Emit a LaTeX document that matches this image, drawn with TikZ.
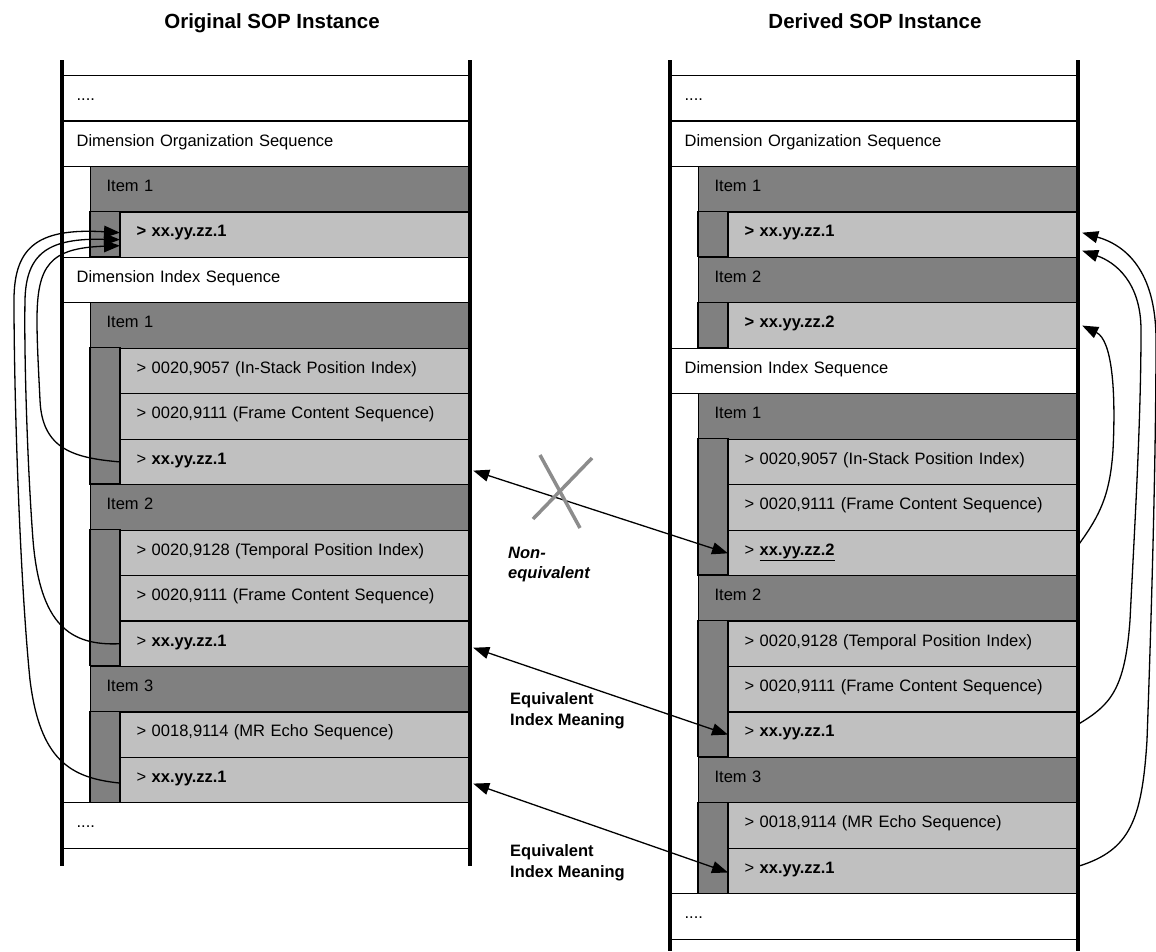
\documentclass[tikz,border=0pt]{standalone}
\usepackage{fontspec}
\setmainfont{Liberation Sans}
\usetikzlibrary{arrows.meta}
\definecolor{dgray}{RGB}{128,128,128}
\definecolor{lgray}{RGB}{192,192,192}
\definecolor{xgray}{RGB}{140,140,140}
\begin{document}
\begin{tikzpicture}[x=1pt, y=-1pt,
  every node/.style={font=\fontsize{16.5}{21}\selectfont},
  row/.style={draw, line width=1.2pt, minimum height=45.45pt, anchor=north west,
    inner ysep=0pt, text height=12pt, text depth=7.4pt, align=left},
  wrow/.style={row, fill=white, minimum width=408pt, text width=380pt, inner xsep=14pt},
  hrow/.style={row, fill=dgray, minimum width=380pt, text width=348pt, inner xsep=16pt},
  irow/.style={row, fill=lgray, minimum width=350pt, text width=318pt, inner xsep=16pt},
  side/.style={draw, line width=1.2pt, fill=dgray},
  colline/.style={line width=3.5pt},
  conn/.style={line width=1.3pt},
  tipend/.style={conn, -{Triangle[length=16pt,width=12pt]}},
  tipboth/.style={conn, {Triangle[length=16pt,width=12pt]}-{Triangle[length=16pt,width=12pt]}},
  xmark/.style={line width=3.5pt, draw=xgray},
  title/.style={font=\bfseries\fontsize{20.5}{24}\selectfont, anchor=base},
  lab/.style={font=\bfseries\fontsize{16.5}{21}\selectfont, anchor=base west, align=left, inner sep=0pt}
]
\useasboundingbox (0,0) rectangle (1156,951);

\node[title] (t1) at (272,28) {Original SOP Instance};
\node[title] (t2) at (875,28) {Derived SOP Instance};

% ---------- left column ----------
\node[wrow] (L0) at (62,75) {....};
\node[wrow] (L1) at (62,120.45) {Dimension Organization Sequence};
\node[hrow] (L2) at (90,165.9) {Item 1};
\draw[side] (90,211.35) rectangle (120,256.8);
\node[irow] (L3) at (120,211.35) {\textbf{> xx.yy.zz.1}};
\node[wrow] (L4) at (62,256.8) {Dimension Index Sequence};
\node[hrow] (L5) at (90,302.25) {Item 1};
\draw[side] (90,347.7) rectangle (120,484.05);
\node[irow] (L6) at (120,347.7) {> 0020,9057 (In-Stack Position Index)};
\node[irow] (L7) at (120,393.15) {> 0020,9111 (Frame Content Sequence)};
\node[irow] (L8) at (120,438.6) {> \textbf{xx.yy.zz.1}};
\node[hrow] (L9) at (90,484.05) {Item 2};
\draw[side] (90,529.5) rectangle (120,665.85);
\node[irow] (L10) at (120,529.5) {> 0020,9128 (Temporal Position Index)};
\node[irow] (L11) at (120,574.95) {> 0020,9111 (Frame Content Sequence)};
\node[irow] (L12) at (120,620.4) {> \textbf{xx.yy.zz.1}};
\node[hrow] (L13) at (90,665.85) {Item 3};
\draw[side] (90,711.3) rectangle (120,802.2);
\node[irow] (L14) at (120,711.3) {> 0018,9114 (MR Echo Sequence)};
\node[irow] (L15) at (120,756.75) {> \textbf{xx.yy.zz.1}};
\node[wrow] (L16) at (62,802.2) {....};

% ---------- right column ----------
\node[wrow] (R0) at (670,75) {....};
\node[wrow] (R1) at (670,120.45) {Dimension Organization Sequence};
\node[hrow] (R2) at (698,165.9) {Item 1};
\draw[side] (698,211.35) rectangle (728,256.8);
\node[irow] (R3) at (728,211.35) {\textbf{> xx.yy.zz.1}};
\node[hrow] (R4) at (698,256.8) {Item 2};
\draw[side] (698,302.25) rectangle (728,347.7);
\node[irow] (R5) at (728,302.25) {\textbf{> xx.yy.zz.2}};
\node[wrow] (R6) at (670,347.7) {Dimension Index Sequence};
\node[hrow] (R7) at (698,393.15) {Item 1};
\draw[side] (698,438.6) rectangle (728,574.95);
\node[irow] (R8) at (728,438.6) {> 0020,9057 (In-Stack Position Index)};
\node[irow] (R9) at (728,484.05) {> 0020,9111 (Frame Content Sequence)};
\node[irow] (R10) at (728,529.5) {> \underline{\textbf{xx.yy.zz.2}}};
\node[hrow] (R11) at (698,574.95) {Item 2};
\draw[side] (698,620.4) rectangle (728,756.75);
\node[irow] (R12) at (728,620.4) {> 0020,9128 (Temporal Position Index)};
\node[irow] (R13) at (728,665.85) {> 0020,9111 (Frame Content Sequence)};
\node[irow] (R14) at (728,711.3) {> \textbf{xx.yy.zz.1}};
\node[hrow] (R15) at (698,756.75) {Item 3};
\draw[side] (698,802.2) rectangle (728,893.1);
\node[irow] (R16) at (728,802.2) {> 0018,9114 (MR Echo Sequence)};
\node[irow] (R17) at (728,847.65) {> \textbf{xx.yy.zz.1}};
\node[wrow] (R18) at (670,893.1) {....};

% column rails
\draw[colline] (62,60) -- (62,866);
\draw[colline] (470,60) -- (470,866);
\draw[colline] (670,60) -- (670,951);
\draw[colline] (1078,60) -- (1078,951);

% ---------- left curves ----------
\draw[tipend] (L8.west) .. controls (75,458) and (42,450) .. (40,400)
  .. controls (38,360) and (37,340) .. (37,320)
  .. controls (37,265) and (50,248) .. ([yshift=-11pt]L3.west);
\draw[tipend] (L12.west) .. controls (70,646) and (40,625) .. (33,540)
  .. controls (27,460) and (24,350) .. (25,300)
  .. controls (26,252) and (50,238) .. ([yshift=-5pt]L3.west);
\draw[tipend] ([yshift=-3pt]L15.west) .. controls (70,778) and (40,760) .. (30,680)
  .. controls (20,580) and (14,400) .. (14,300)
  .. controls (14,245) and (40,228) .. ([yshift=2pt]L3.west);

% ---------- right curves ----------
\draw[tipend] ([yshift=9pt]R10.east) .. controls (1100,515) and (1110,495) .. (1113,450)
  .. controls (1116,390) and (1112,340) .. ([xshift=3pt]R5.east);
\draw[tipend] ([yshift=11pt]R14.east) .. controls (1110,705) and (1125,690) .. (1130,620)
  .. controls (1135,520) and (1141,420) .. (1141,330)
  .. controls (1141,282) and (1115,262) .. ([xshift=3pt,yshift=-16pt]R3.east);
\draw[tipend] ([yshift=5pt]R17.east) .. controls (1130,850) and (1142,820) .. (1147,740)
  .. controls (1152,600) and (1156,450) .. (1156,340)
  .. controls (1156,270) and (1125,245) .. ([xshift=3pt,yshift=2pt]R3.east);

% ---------- middle arrows ----------
\draw[tipboth] ([xshift=2pt,yshift=-8.7pt]L8.east) -- ([yshift=-0.5pt]R10.west);
\draw[tipboth] ([xshift=2pt,yshift=-4pt]L12.east) -- (R14.west);
\draw[tipboth] ([xshift=2pt,yshift=-3.5pt]L15.east) -- ([yshift=-1.5pt]R17.west);

% cross
\draw[xmark] (540,455) -- (580,528);
\draw[xmark] (592,458) -- (533,519);

% labels
\node[lab, font=\bfseries\itshape\fontsize{16.5}{20}\selectfont] (ne) at (508,578) {Non-\\equivalent};
\node[lab] (eq1) at (510,725) {Equivalent\\Index Meaning};
\node[lab] (eq2) at (510,877) {Equivalent\\Index Meaning};
\end{tikzpicture}
\end{document}
